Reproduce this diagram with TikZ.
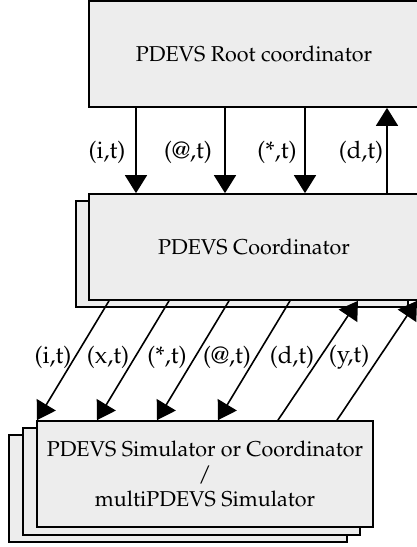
\documentclass[tikz,border=0pt]{standalone}
\usepackage[T1]{fontenc}
\usepackage{mathpazo}
\usetikzlibrary{arrows.meta}
\tikzset{
  box/.style={draw=black, line width=1.7pt, fill=gray!14, inner sep=0pt, align=center,
    font=\fontsize{21.5}{25}\selectfont},
  arr/.style={line width=1.6pt, -{Triangle[width=22pt,length=18pt]}},
  lab/.style={inner sep=0pt, font=\fontsize{24}{26}\selectfont}
}
\begin{document}
\begin{tikzpicture}[x=1pt,y=-1pt]
\useasboundingbox (0,0) rectangle (417,547);
\clip (0,0) rectangle (417,547);
% root coordinator
\node[box, minimum width=330pt, minimum height=106pt] (root) at (254,54) {PDEVS Root coordinator};
% coordinator stack
\node[box, minimum width=332pt, minimum height=106pt] (cb) at (242,254) {};
\node[box, minimum width=330pt, minimum height=106pt] (cf) at (254,247) {PDEVS Coordinator};
% simulator stack
\node[box, minimum width=338pt, minimum height=107pt] (sb) at (178,488.5) {};
\node[box, minimum width=337pt, minimum height=107pt] (sm) at (191.5,481.5) {};
\node[box, minimum width=336pt, minimum height=106pt] (sf) at (205,474) {PDEVS Simulator or Coordinator\\/\\multiPDEVS Simulator};
% x positions
\coordinate (v1) at (136,0);
\coordinate (v2) at (225,0);
\coordinate (v3) at (305,0);
\coordinate (v4) at (387,0);
\coordinate (a1) at (109,0); \coordinate (b1) at (37,0);
\coordinate (a2) at (169,0); \coordinate (b2) at (97,0);
\coordinate (a3) at (229,0); \coordinate (b3) at (157,0);
\coordinate (a4) at (290,0); \coordinate (b4) at (218,0);
\coordinate (c5) at (278,0); \coordinate (d5) at (358,0);
\coordinate (c6) at (337,0); \coordinate (d6) at (417,0);
% root <-> coordinator
\draw[arr] (root.south -| v1) -- (cf.north -| v1);
\draw[arr] (root.south -| v2) -- (cf.north -| v2);
\draw[arr] (root.south -| v3) -- (cf.north -| v3);
\draw[arr] (cf.north -| v4) -- (root.south -| v4);
\node[lab] (l1) at (107,152) {(i,t)};
\node[lab] (l2) at (188,152) {(@,t)};
\node[lab] (l3) at (277,152) {(*,t)};
\node[lab] (l4) at (361,152) {(d,t)};
% coordinator <-> simulators
\draw[arr] (cf.south -| a1) -- (sf.north -| b1);
\draw[arr] (cf.south -| a2) -- (sf.north -| b2);
\draw[arr] (cf.south -| a3) -- (sf.north -| b3);
\draw[arr] (cf.south -| a4) -- (sf.north -| b4);
\draw[arr] (sf.north -| c5) -- (cf.south -| d5);
\draw[arr] (sf.north -| c6) -- (cf.south -| d6);
\node[lab] (m1) at (53,357) {(i,t)};
\node[lab] (m2) at (108,357) {(x,t)};
\node[lab] (m3) at (167,357) {(*,t)};
\node[lab] (m4) at (227,357) {(@,t)};
\node[lab] (m5) at (292,357) {(d,t)};
\node[lab] (m6) at (349,357) {(y,t)};
\end{tikzpicture}
\end{document}
